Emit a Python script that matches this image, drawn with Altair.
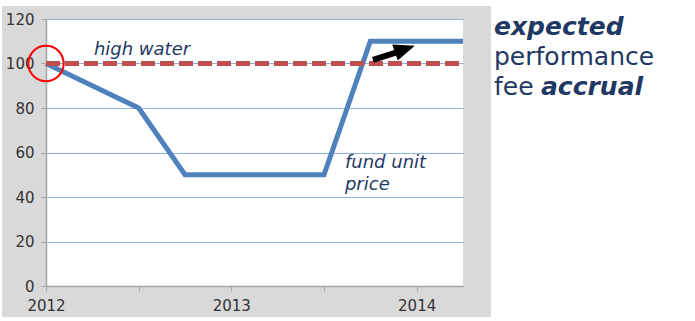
import altair as alt
import pandas as pd

# ---- data ----
years = [2012, 2012.5, 2012.75, 2013.5, 2013.75, 2014.25]
unit_price = [100, 80, 50, 50, 110, 110]
hw_years = [2012, 2014.25]
hw_values = [100, 100]
x_ticks = [2012, 2012.5, 2013, 2013.5, 2014]
y_ticks = [0, 20, 40, 60, 80, 100, 120]

price_df = pd.DataFrame({"year": years, "value": unit_price})
hw_df = pd.DataFrame({"year": hw_years, "value": hw_values})

W, H = 417, 267
PAD = {"left": 46, "top": 19, "right": 695 - 46 - W, "bottom": 321 - 19 - H}

NAVY = "#1f3864"
FONT = "DejaVu Sans"

xs = alt.Scale(domain=[2012, 2014.25], nice=False, zero=False)
ys = alt.Scale(domain=[0, 120], nice=False)

x_axis = alt.Axis(values=x_ticks, labelExpr="datum.value % 1 === 0 ? format(datum.value, 'd') : ''",
                  grid=False, domainColor="#a6a6a6", domainWidth=1.5, tickColor="#a6a6a6",
                  tickSize=5, labelPadding=7, labelFontSize=15, labelColor="#333333",
                  labelFont=FONT, title=None, labelFlush=False, labelOverlap=False)
y_axis = alt.Axis(values=y_ticks, grid=True, gridColor="#8db3e2", gridWidth=1.2,
                  domainColor="#a6a6a6", domainWidth=1.5, tickColor="#a6a6a6", tickSize=5,
                  labelPadding=7, labelFontSize=15, labelColor="#333333", labelFont=FONT,
                  title=None, labelFlush=False)

# white strips outside the grey panel
white = pd.DataFrame({"x": [0]})
strips = [(445, 649, -19, 302), (-46, 445, -19, -13), (-46, -44, -19, 302), (-46, 445, 298, 302)]
strip_layers = [
    alt.Chart(white).mark_rect(color="white").encode(
        x=alt.value(a), x2=alt.value(b), y=alt.value(c), y2=alt.value(d))
    for a, b, c, d in strips
]

price = alt.Chart(price_df).mark_line(color="#4f81bd", strokeWidth=5, strokeJoin="miter").encode(
    x=alt.X("year:Q", scale=xs, axis=x_axis),
    y=alt.Y("value:Q", scale=ys, axis=y_axis),
)
hw = alt.Chart(hw_df).mark_line(color="#c0504d", strokeWidth=5, strokeDash=[14, 5]).encode(
    x=alt.X("year:Q", scale=xs), y=alt.Y("value:Q", scale=ys))

circle = alt.Chart(pd.DataFrame({"year": [2012], "value": [100]})).mark_point(
    shape="circle", size=1250, filled=False, color="#ff0000", strokeWidth=2, opacity=1).encode(
    x=alt.X("year:Q", scale=xs), y=alt.Y("value:Q", scale=ys))

arrow_df = pd.DataFrame({"x1": [2013.764], "y1": [101.6], "x2": [2013.93], "y2": [106.0]})
shaft = alt.Chart(arrow_df).mark_rule(color="black", strokeWidth=6).encode(
    x=alt.X("x1:Q", scale=xs), y=alt.Y("y1:Q", scale=ys), x2="x2:Q", y2="y2:Q")
head = alt.Chart(pd.DataFrame({"year": [2013.99], "value": [108.0]})).mark_point(
    shape="M0,0 L-0.8,2 L0.8,2 Z", size=440, filled=True, color="black", opacity=1, angle=71).encode(
    x=alt.X("year:Q", scale=xs), y=alt.Y("value:Q", scale=ys))

def note(txt, xv, yv, align="left", style="italic", weight="normal", size=18):
    return alt.Chart(pd.DataFrame({"year": [xv], "value": [yv]})).mark_text(
        text=txt, align=align, baseline="alphabetic", fontStyle=style, fontWeight=weight,
        fontSize=size, color=NAVY, font=FONT).encode(
        x=alt.X("year:Q", scale=xs), y=alt.Y("value:Q", scale=ys))

notes = [
    note("high water", 2012.518, 103.8, align="center"),
    note("fund unit", 2013.613, 53),
    note("price", 2013.613, 43.1),
]

def side(txt, xp, yp, style="normal", weight="normal"):
    return alt.Chart(white).mark_text(
        text=txt, align="left", baseline="alphabetic", fontStyle=style, fontWeight=weight,
        fontSize=25, color=NAVY, font=FONT).encode(x=alt.value(xp), y=alt.value(yp))

sides = [
    side("expected", 448, 16, "italic", "bold"),
    side("performance", 448, 46),
    side("fee", 448, 76),
    side("accrual", 495, 76, "italic", "bold"),
]

chart = alt.layer(*strip_layers, price, hw, circle, shaft, head, *notes, *sides).properties(
    width=W, height=H, autosize=alt.AutoSizeParams(type="none"), padding=PAD,
    background="#d9d9d9",
).configure_view(fill="white", stroke=None)

chart.save("out.html", embed_options={"renderer": "svg", "actions": False})
